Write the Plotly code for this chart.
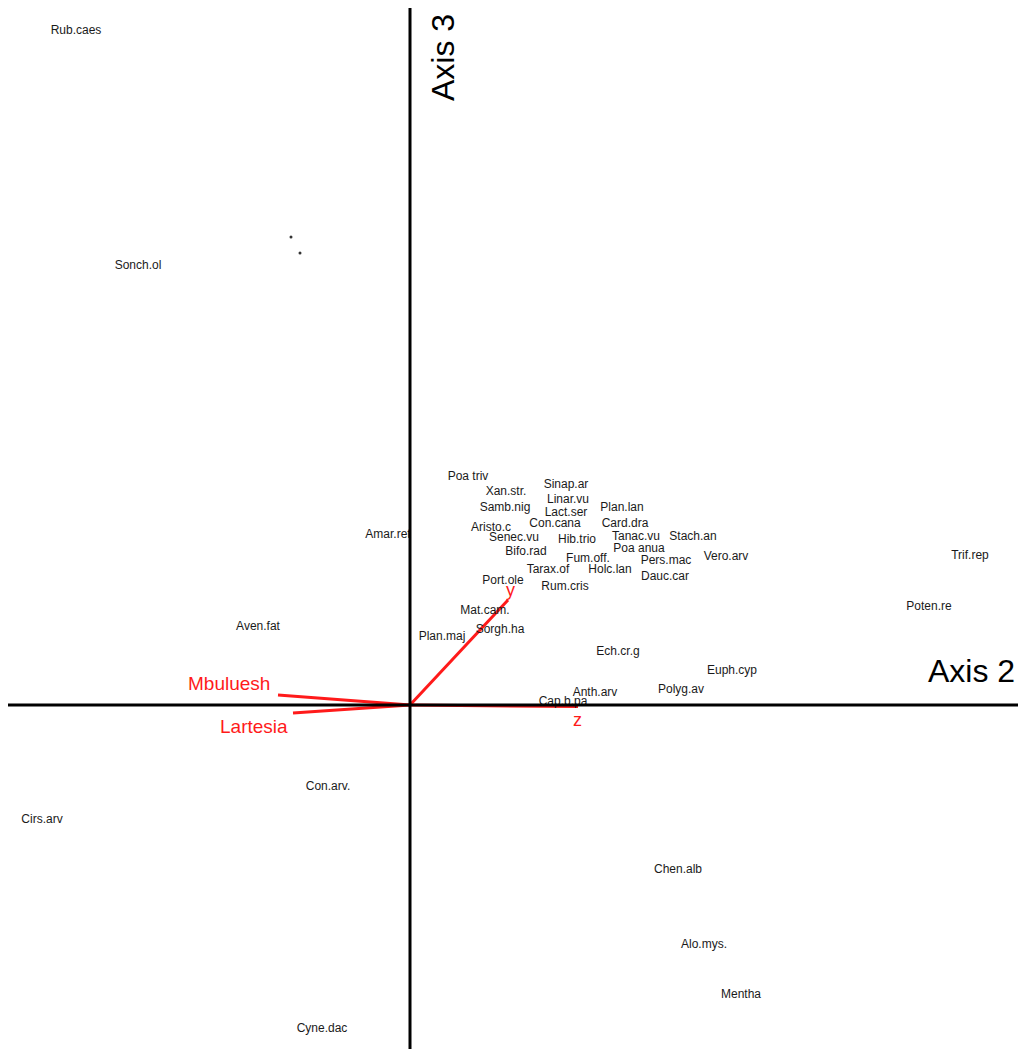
import plotly.graph_objects as go

# Species scores on ordination axes 2 (horizontal) and 3 (vertical)
species = [
    "Rub.caes", "Sonch.ol", "Poa triv", "Xan.str.", "Sinap.ar", "Linar.vu",
    "Samb.nig", "Lact.ser", "Plan.lan", "Aristo.c", "Con.cana", "Card.dra",
    "Amar.ret", "Senec.vu", "Hib.trio", "Tanac.vu", "Stach.an", "Poa anua",
    "Bifo.rad", "Fum.off.", "Pers.mac", "Vero.arv", "Trif.rep", "Tarax.of",
    "Holc.lan", "Dauc.car", "Port.ole", "Rum.cris", "Poten.re", "Mat.cam.",
    "Sorgh.ha", "Aven.fat", "Plan.maj", "Ech.cr.g", "Euph.cyp", "Polyg.av",
    "Anth.arv", "Cap.b.pa", "Con.arv.", "Cirs.arv", "Chen.alb", "Alo.mys.",
    "Mentha", "Cyne.dac",
]
axis2 = [
    -3.34, -2.72, 0.58, 0.96, 1.56, 1.58,
    0.95, 1.56, 2.12, 0.81, 1.45, 2.15,
    -0.22, 1.04, 1.67, 2.26, 2.83, 2.29,
    1.16, 1.78, 2.56, 3.16, 5.60, 1.38,
    2.00, 2.55, 0.93, 1.55, 5.19, 0.75,
    0.90, -1.52, 0.32, 2.08, 3.22, 2.71,
    1.85, 1.53, -0.82, -3.68, 2.68, 2.94,
    3.31, -0.88,
]
axis3 = [
    6.74, 4.39, 2.28, 2.13, 2.20, 2.05,
    1.97, 1.92, 1.97, 1.77, 1.81, 1.81,
    1.70, 1.67, 1.65, 1.68, 1.68, 1.56,
    1.53, 1.46, 1.44, 1.48, 1.49, 1.35,
    1.35, 1.28, 1.24, 1.18, 0.98, 0.94,
    0.75, 0.78, 0.68, 0.53, 0.34, 0.15,
    0.12, 0.03, -0.82, -1.15, -1.65, -2.40,
    -2.90, -3.24,
]

# Unlabelled sample points
point_axis2 = [-1.19, -1.10]
point_axis3 = [4.68, 4.52]

# Environmental variable vectors (arrow tips)
env_names = ["y", "z", "Mbuluesh", "Lartesia"]
env_axis2 = [0.98, 1.68, -1.32, -1.17]
env_axis3 = [1.05, -0.015, 0.10, -0.08]
env_label_shift = [(2, 10), (-1, -13), (-49, 12), (-39, -13)]
env_font_size = [18, 18, 19, 19]

RED = "#ff1a1a"
FONT = "Liberation Sans, Arial, sans-serif"

fig = go.Figure()

# Vectors from the origin
for name, ex, ey in zip(env_names, env_axis2, env_axis3):
    fig.add_trace(go.Scatter(
        x=[0, ex], y=[0, ey], mode="lines",
        line=dict(color=RED, width=3), hoverinfo="skip", showlegend=False,
    ))

fig.add_trace(go.Scatter(
    x=point_axis2, y=point_axis3, mode="markers",
    marker=dict(color="#333333", size=3), showlegend=False,
))

fig.add_trace(go.Scatter(
    x=axis2, y=axis3, mode="text", text=species,
    textposition="middle center",
    textfont=dict(family=FONT, size=12, color="#1a1a1a"),
    showlegend=False,
))

for name, ex, ey, (dx, dy), fs in zip(env_names, env_axis2, env_axis3, env_label_shift, env_font_size):
    fig.add_annotation(
        x=ex, y=ey, text=name, showarrow=False, xshift=dx, yshift=dy,
        font=dict(family=FONT, size=fs, color=RED),
    )

# Ordination axes through the origin
fig.add_shape(type="line", xref="x", yref="paper", x0=0, x1=0, y0=0, y1=(1049 - 8) / 1049,
              line=dict(color="black", width=3))
fig.add_shape(type="line", xref="paper", yref="y", x0=8 / 1021, x1=1018 / 1021, y0=0, y1=0,
              line=dict(color="black", width=3))

fig.add_annotation(x=1017 / 1021, y=0, xref="paper", yref="y", text="Axis 2", showarrow=False,
                   xanchor="right", yanchor="bottom", yshift=14,
                   font=dict(family=FONT, size=32, color="black"))
fig.add_annotation(x=0, y=(1049 - 58) / 1049, xref="x", yref="paper", text="Axis 3", showarrow=False,
                   textangle=-90, xshift=33, yanchor="middle", xanchor="center",
                   font=dict(family=FONT, size=32, color="black"))

fig.update_layout(
    width=1021, height=1049,
    margin=dict(l=0, r=0, t=0, b=0),
    paper_bgcolor="white", plot_bgcolor="white",
    xaxis=dict(range=[-4.10, 6.11], visible=False, showgrid=False, zeroline=False, fixedrange=True),
    yaxis=dict(range=[-3.44, 7.05], visible=False, showgrid=False, zeroline=False, fixedrange=True),
    showlegend=False,
)

fig.write_html("out.html", config={"displayModeBar": False})
